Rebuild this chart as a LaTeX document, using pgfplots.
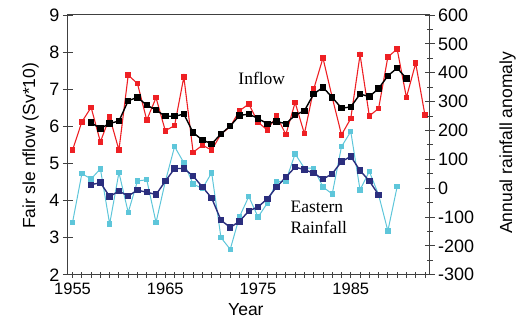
\documentclass[border=0pt]{standalone}
\usepackage{pgfplots}
\pgfplotsset{compat=1.18}
\usepackage{fontspec}
\setmainfont{Liberation Sans}
\newfontfamily\timesf{Liberation Serif}
\definecolor{cred}{HTML}{EE2024}
\definecolor{ccyan}{HTML}{5EC6DA}
\definecolor{cnavy}{HTML}{2B2E7E}
\begin{document}
\begin{tikzpicture}
\pgfplotsset{
  base/.style={
    scale only axis, width=362bp, height=260bp,
    at={(0,0)}, anchor=south west,
    xmin=1954.5, xmax=1993.5,
    /pgf/number format/assume math mode=true,
    /pgf/number format/1000 sep={},
    tick label style={font=\fontsize{18bp}{20bp}\selectfont},
    label style={font=\fontsize{17.5bp}{20bp}\selectfont},
    axis line style={black!75, line width=1bp},
    tick style={black!75, line width=0.9bp},
    tick align=center,
    major tick length=10bp, minor tick length=6bp,
  }
}
\begin{axis}[base,
  ymin=2, ymax=9,
  ytick={2,3,...,9},
  xtick={1955,1965,1975,1985},
  xticklabels={1955,1965,1975,1985},
  minor xtick={1955,1956,...,1993},
  major x tick style={draw=none},
  xtick pos=left, ytick pos=left,
  x tick label style={font=\fontsize{16.5bp}{18bp}\selectfont},
  xlabel={Year},
  xlabel style={at={(axis description cs:0.492,-0.135)}, anchor=center},
  ylabel={Fair sle nflow (Sv*10)},
  ylabel style={at={(axis description cs:-0.103,0.496)}, anchor=center},
]
\addplot[cred, line width=1.1bp, mark=square*, mark size=2.2bp, mark options={solid, fill=cred}] coordinates {
(1955,5.36)(1956,6.12)(1957,6.51)(1958,5.58)(1959,6.25)(1960,5.36)(1961,7.38)(1962,7.15)
(1963,6.17)(1964,6.77)(1965,5.88)(1966,6.02)(1967,7.33)(1968,5.30)(1969,5.49)(1970,5.36)
(1971,5.79)(1972,5.99)(1973,6.42)(1974,6.60)(1975,6.11)(1976,5.90)(1977,6.28)(1978,5.78)
(1979,6.64)(1980,5.80)(1981,7.00)(1982,7.84)(1983,6.78)(1984,5.77)(1985,6.21)(1986,7.93)
(1987,6.28)(1988,6.48)(1989,7.87)(1990,8.08)(1991,6.78)(1992,7.70)(1993,6.30)};
\addplot[black, line width=1.4bp, mark=square*, mark size=2.5bp, mark options={solid, fill=black}] coordinates {
(1957,6.10)(1958,5.94)(1959,6.08)(1960,6.14)(1961,6.69)(1962,6.78)(1963,6.57)(1964,6.44)
(1965,6.27)(1966,6.27)(1967,6.33)(1968,5.83)(1969,5.63)(1970,5.53)(1971,5.79)(1972,6.01)
(1973,6.29)(1974,6.33)(1975,6.21)(1976,6.07)(1977,6.13)(1978,6.07)(1979,6.30)(1980,6.42)
(1981,6.87)(1982,7.05)(1983,6.78)(1984,6.49)(1985,6.52)(1986,6.87)(1987,6.80)(1988,7.02)
(1989,7.36)(1990,7.57)(1991,7.29)};
\node[font=\timesf\fontsize{17.5bp}{19bp}\selectfont] at (axis cs:1975.4,7.28) {Inflow};
\end{axis}
\begin{axis}[base,
  ymin=-300, ymax=600,
  ytick={-300,-200,...,600},
  minor ytick={-250,-150,...,550},
  axis y line*=right, axis x line=none,
  ylabel={Annual rainfall anomaly},
  ylabel style={at={(axis description cs:1.2155,0.508)}, anchor=center},
]
\addplot[ccyan, line width=1bp, mark=square*, mark size=2.2bp, mark options={solid, fill=ccyan}] coordinates {
(1955,-118)(1956,50)(1957,32)(1958,67)(1959,-124)(1960,54)(1961,-84)(1962,25)
(1963,29)(1964,-119)(1965,23)(1966,144)(1967,88)(1968,14)(1969,-1)(1970,53)
(1971,-171)(1972,-212)(1973,-99)(1974,-29)(1975,-100)(1976,-52)(1977,23)(1978,25)
(1979,119)(1980,69)(1981,69)(1982,4)(1983,-20)(1984,144)(1985,196)(1986,-6)
(1987,58)(1988,-23)(1989,-148)(1990,5)};
\addplot[cnavy, line width=1.4bp, mark=square*, mark size=2.5bp, mark options={solid, fill=cnavy}] coordinates {
(1957,12)(1958,19)(1959,-29)(1960,-10)(1961,-27)(1962,-7)(1963,-14)(1964,-22)
(1965,24)(1966,68)(1967,68)(1968,42)(1969,4)(1970,-34)(1971,-111)(1972,-136)
(1973,-115)(1974,-79)(1975,-65)(1976,-37)(1977,4)(1978,38)(1979,73)(1980,64)
(1981,52)(1982,31)(1983,50)(1984,92)(1985,110)(1986,61)(1987,25)(1988,-23)};
\node[font=\timesf\fontsize{17.5bp}{20.7bp}\selectfont, align=left, anchor=west, inner sep=0pt] at (axis cs:1978.5,-100) {Eastern\\Rainfall};
\end{axis}
\useasboundingbox (-68bp,-49bp) rectangle (451bp,275bp);
\end{tikzpicture}
\end{document}
